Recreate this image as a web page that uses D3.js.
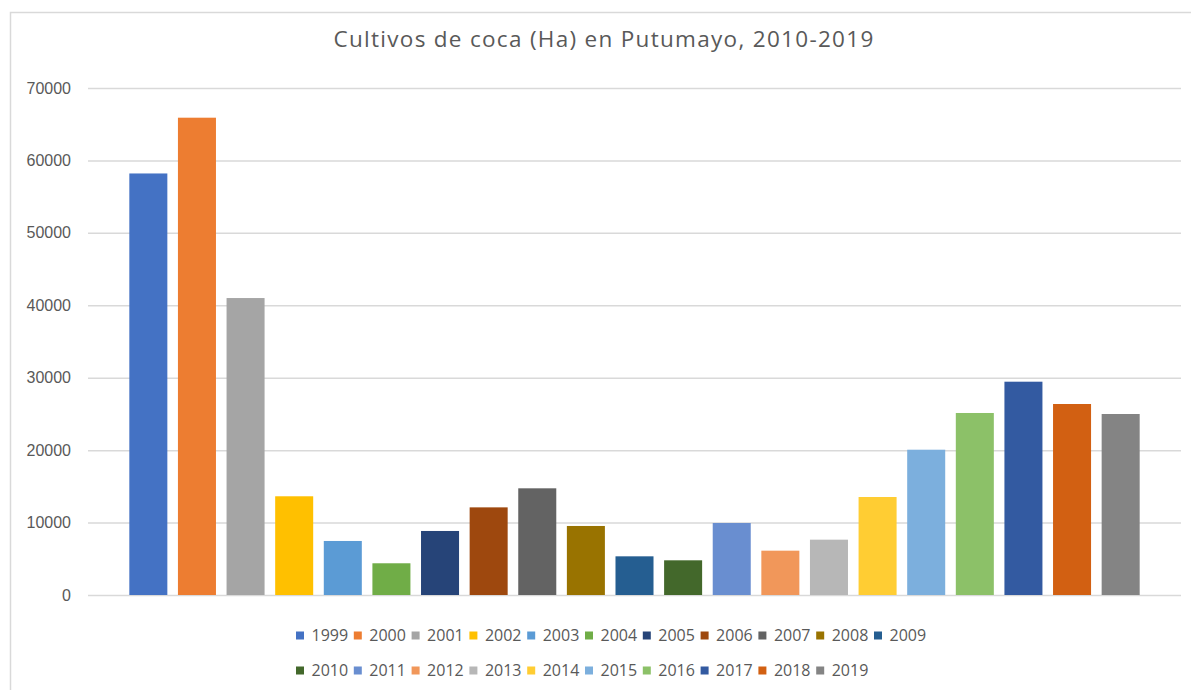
<!DOCTYPE html>
<html>
<head>
	<meta charset="utf-8">
	<title>index</title>
	<script src="https://d3js.org/d3.v7.min.js"></script>
	<style>
		body { margin:0; background:#fff; }
		svg { display:block; font-family:"Open Sans", sans-serif; }
		.tick text { fill:#595959; font-size:16px; }
		.tick line { stroke:#d9d9d9; stroke-width:1.5; }
	</style>
</head>
<body>
<script>

	// data
	var years = ["1999","2000","2001","2002","2003","2004","2005","2006","2007","2008","2009",
		"2010","2011","2012","2013","2014","2015","2016","2017","2018","2019"];
	var hectares = [58200, 65900, 41000, 13630, 7460, 4380, 8840, 12100, 14730, 9530, 5340,
		4790, 9940, 6120, 7640, 13530, 20060, 25130, 29450, 26370, 24990];
	var colors = ["#4472C4","#ED7D31","#A5A5A5","#FFC000","#5B9BD5","#70AD47","#264478","#9E480E",
		"#636363","#997300","#255E91","#43682B","#698ED0","#F1975A","#B7B7B7","#FFCD33","#7CAFDD",
		"#8CC168","#335AA1","#D26012","#848484"];
	var yTicks = [0, 10000, 20000, 30000, 40000, 50000, 60000, 70000];
	var legendRows = [years.slice(0, 11), years.slice(11)];

	var width = 1191, height = 690;
	var plot = {left:88, right:1181, top:88, bottom:595};

	var svg = d3.select("body").append("svg").attr("width", width).attr("height", height);

	// chart frame
	svg.append("rect")
		.attr("x", 10.5).attr("y", 12.5)
		.attr("width", 1200).attr("height", 700)
		.attr("fill", "none").attr("stroke", "#d9d9d9").attr("stroke-width", 1.5);

	svg.append("text")
		.attr("x", 604).attr("y", 47)
		.attr("text-anchor", "middle")
		.attr("font-size", "22.5px")
		.attr("letter-spacing", "1.3px")
		.attr("fill", "#595959")
		.text("Cultivos de coca (Ha) en Putumayo, 2010-2019");

	var x = d3.scaleBand().domain(years)
		.range([plot.left, plot.right])
		.paddingInner(0.218).paddingOuter(0.85);
	var y = d3.scaleLinear().domain([0, 70000]).range([plot.bottom, plot.top]);

	var yAxis = svg.append("g")
		.attr("transform", "translate(" + plot.left + ",0)")
		.call(d3.axisLeft(y).tickValues(yTicks).tickFormat(d3.format("d"))
			.tickSize(-(plot.right - plot.left)).tickPadding(17));
	yAxis.select(".domain").remove();

	svg.selectAll("rect.bar").data(years).enter().append("rect")
		.attr("class", "bar")
		.attr("x", function(d) { return x(d); })
		.attr("y", function(d, i) { return y(hectares[i]); })
		.attr("width", x.bandwidth())
		.attr("height", function(d, i) { return plot.bottom - y(hectares[i]); })
		.attr("fill", function(d, i) { return colors[i]; });

	// legend, two rows left aligned
	var legendX = 296, legendY = [635.5, 670.5], pitch = 57.8;
	legendRows.forEach(function(row, r) {
		var g = svg.append("g");
		row.forEach(function(yr, k) {
			var lx = legendX + k * pitch;
			g.append("rect")
				.attr("x", lx).attr("y", legendY[r] - 4)
				.attr("width", 8).attr("height", 8)
				.attr("fill", colors[years.indexOf(yr)]);
			g.append("text")
				.attr("x", lx + 15.5).attr("y", legendY[r])
				.attr("dy", "0.36em")
				.attr("font-size", "16px")
				.attr("fill", "#595959")
				.text(yr);
		});
	});

</script>
</body>
</html>
